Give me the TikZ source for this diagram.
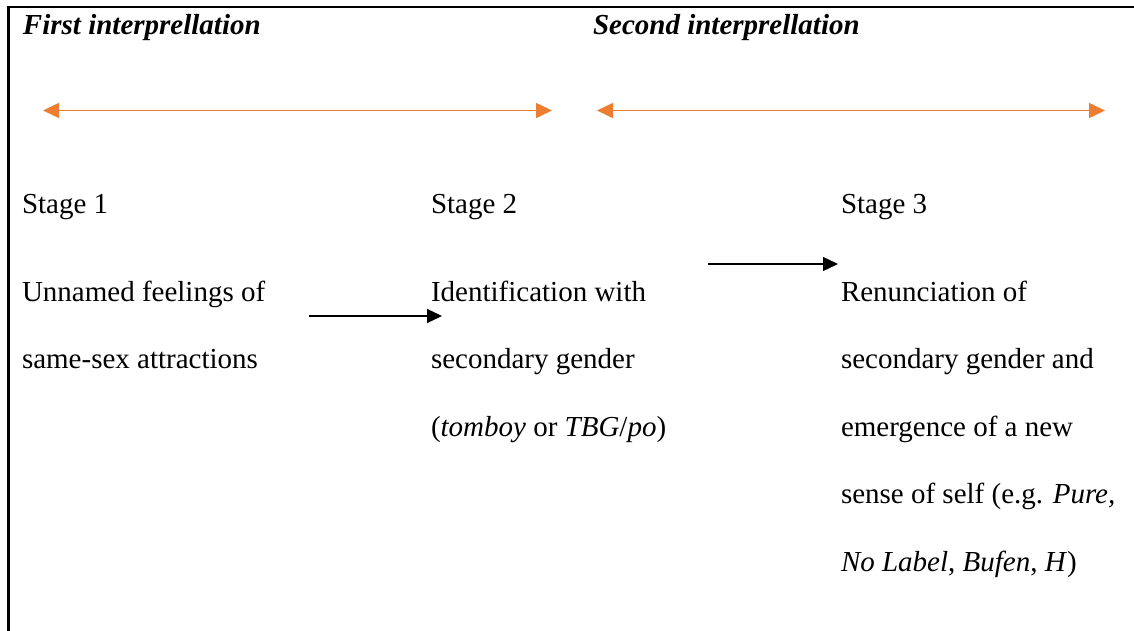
\documentclass[tikz,border=0pt]{standalone}
\usepackage{fontspec}
\setmainfont{Liberation Serif}
\usetikzlibrary{arrows.meta}
\definecolor{orangeline}{HTML}{ED7D31}
\begin{document}
\begin{tikzpicture}[x=1pt,y=-1pt,
  txt/.style={anchor=base west,inner sep=0pt,outer sep=0pt,font=\fontsize{29}{35}\selectfont},
  hdr/.style={txt,font=\fontsize{29}{35}\selectfont\bfseries\itshape},
  orangearrow/.style={draw=orangeline,line width=1.5pt,{Triangle[length=16pt,width=15pt]}-{Triangle[length=16pt,width=15pt]}},
  blackarrow/.style={draw=black,line width=1.3pt,-{Triangle[length=15pt,width=14pt]}},
  border/.style={draw=black,line width=2.7pt}]
\useasboundingbox (0,0) rectangle (1134,631);
% border
\coordinate (bl) at (8.5,631);
\coordinate (tl) at (8.5,7);
\coordinate (tr) at (1134,7);
\draw[border] (bl) -- (tl) -- (tr);
% headers
\node[hdr] (h1) at (23,35) {First interprellation};
\node[hdr] (h2) at (593,35) {Second interprellation};
% orange arrows
\coordinate (o1a) at (43,110.5);
\coordinate (o1b) at (552,110.5);
\coordinate (o2a) at (597,110.5);
\coordinate (o2b) at (1105,110.5);
\draw[orangearrow] (o1a) -- (o1b);
\draw[orangearrow] (o2a) -- (o2b);
% column 1
\node[txt] (s1) at (22,213) {Stage 1};
\node[txt] (s1a) at (22,301) {Unnamed feelings of};
\node[txt] (s1b) at (22,368.5) {same-sex attractions};
% column 2
\node[txt] (s2) at (431,213) {Stage 2};
\node[txt] (s2a) at (431,301) {Identification with};
\node[txt] (s2b) at (431,368.5) {secondary gender};
\node[txt] (s2c) at (431,436) {(\textit{tomboy} or \textit{TBG}/\textit{po})};
% column 3
\node[txt] (s3) at (841,213) {Stage 3};
\node[txt] (s3a) at (841,301) {Renunciation of};
\node[txt] (s3b) at (841,368.5) {secondary gender and};
\node[txt] (s3c) at (841,436) {emergence of a new};
\node[txt] (s3d) at (841,503.5) {sense of self (e.g. \textit{Pure,}};
\node[txt] (s3e) at (841,571) {\textit{No Label}, \textit{Bufen}, \textit{H})};
% black arrows
\coordinate (b1a) at (309,316);
\coordinate (b1b) at (442,316);
\coordinate (b2a) at (708,264);
\coordinate (b2b) at (838,264);
\draw[blackarrow] (b1a) -- (b1b);
\draw[blackarrow] (b2a) -- (b2b);
\end{tikzpicture}
\end{document}
